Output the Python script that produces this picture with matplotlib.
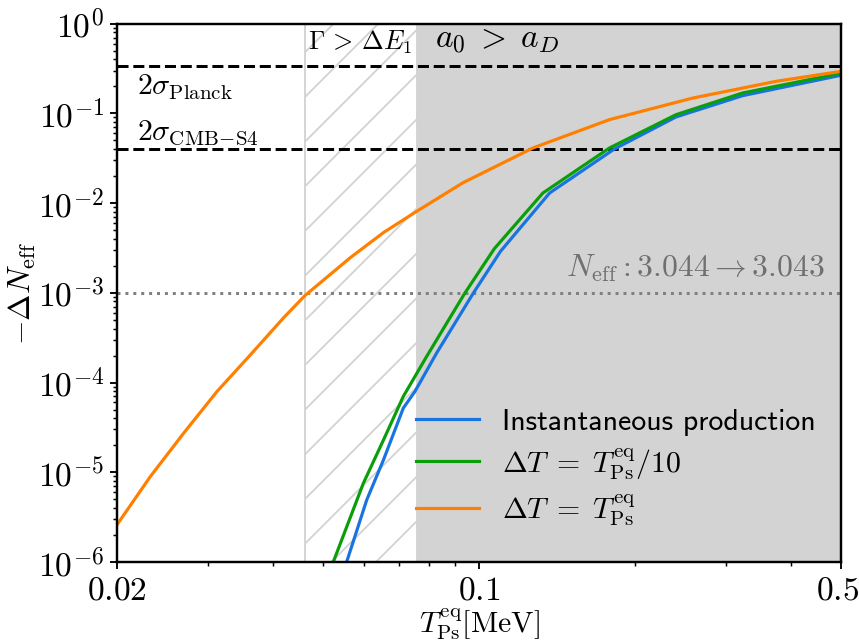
import numpy as np
import matplotlib
matplotlib.use("Agg")
import matplotlib.pyplot as plt
from matplotlib.transforms import ScaledTranslation
from matplotlib.ticker import FixedLocator, FixedFormatter, LogLocator, NullFormatter, FuncFormatter

plt.rcParams['mathtext.fontset'] = 'cm'
plt.rcParams['font.family'] = ['cmss10', 'DejaVu Sans']
plt.rcParams['axes.unicode_minus'] = False
plt.rcParams['hatch.color'] = 'lightgrey'

# curves (T_Ps^eq in MeV, -Delta N_eff)
T_inst = [0.0555, 0.0607, 0.0654, 0.0714, 0.0752, 0.0828, 0.0975, 0.110, 0.1368, 0.1825, 0.240, 0.3227, 0.5]
N_inst = [1e-6, 4.93e-6, 1.38e-5, 5.19e-5, 7.96e-5, 2.13e-4, 9.95e-4, 2.9e-3, 0.01295, 0.0401, 0.0912, 0.1575, 0.266]

T_tenth = [0.0523, 0.0598, 0.0654, 0.0714, 0.0792, 0.0879, 0.0939, 0.107, 0.1328, 0.1785, 0.240, 0.3227, 0.5]
N_tenth = [1e-6, 7.57e-6, 2.30e-5, 7.0e-5, 1.95e-4, 5.3e-4, 9.95e-4, 3.1e-3, 0.01295, 0.0411, 0.0967, 0.1687, 0.28]

T_full = [0.02, 0.0232, 0.0269, 0.0312, 0.0362, 0.0419, 0.0461, 0.0564, 0.0654, 0.0758, 0.093,
          0.127, 0.1785, 0.2584, 0.3743, 0.5]
N_full = [2.6e-6, 8.98e-6, 2.73e-5, 7.96e-5, 2.04e-4, 5.24e-4, 9.3e-4, 2.46e-3, 4.7e-3, 8.1e-3, 0.0168,
          0.0411, 0.0851, 0.148, 0.2275, 0.294]

sigma_planck = 0.334
sigma_s4 = 0.040
neff_shift = 1e-3
T_hatch = (0.0461, 0.0760)
T_grey = (0.0760, 0.5)

fig = plt.figure(figsize=(6.4, 4.8), dpi=134.25)
ax = fig.add_axes([0.1362, 0.1273, 0.979 - 0.1362, 0.9627 - 0.1273])

ax.axvspan(*T_hatch, facecolor='white', edgecolor='lightgrey', hatch='/', lw=1.0, zorder=0)
ax.axvspan(*T_grey, facecolor='lightgrey', edgecolor='none', zorder=0)

ax.axhline(sigma_planck, color='black', ls='--', lw=1.6)
ax.axhline(sigma_s4, color='black', ls='--', lw=1.6)
ax.axhline(neff_shift, color='grey', ls=':', lw=1.6)

ax.plot(T_inst, N_inst, color='#1874e0', lw=1.7, label='Instantaneous production')
ax.plot(T_tenth, N_tenth, color='#0a9e0a', lw=1.7, label=r'$\Delta T\;=\;T_{\rm Ps}^{\rm eq}/10$')
ax.plot(T_full, N_full, color='#ff8000', lw=1.7, label=r'$\Delta T\;=\;T_{\rm Ps}^{\rm eq}$')

ax.set_xscale('log')
ax.set_yscale('log')
ax.set_xlim(0.02, 0.5)
ax.set_ylim(1e-6, 1)

ax.xaxis.set_major_locator(FixedLocator([0.02, 0.1, 0.5]))
ax.xaxis.set_major_formatter(FixedFormatter([r'$0.02$', r'$0.1$', r'$0.5$']))
ax.xaxis.set_minor_locator(LogLocator(base=10, subs=np.arange(2, 10)))
ax.xaxis.set_minor_formatter(NullFormatter())
ax.yaxis.set_major_locator(LogLocator(base=10, numticks=10))
ax.yaxis.set_major_formatter(FuncFormatter(lambda v, p: r'$10^{%d}$' % round(np.log10(v))))
ax.yaxis.set_minor_locator(LogLocator(base=10, subs=np.arange(2, 10), numticks=20))
ax.yaxis.set_minor_formatter(NullFormatter())

ax.tick_params(which='major', labelsize=18, length=4, width=1.0, pad=3)
ax.tick_params(which='minor', length=2.2, width=0.8)
for s in ax.spines.values():
    s.set_linewidth(1.3)

# keep the 0.5 label inside the figure
last = ax.xaxis.get_major_ticks()[-1].label1
last.set_transform(last.get_transform() + ScaledTranslation(-4 / 134.25, 0, fig.dpi_scale_trans))

ax.set_xlabel(r'$T_{\rm Ps}^{\rm eq} [{\rm MeV}]$', fontsize=16, labelpad=0)
ax.set_ylabel(r'$-\Delta N_{\rm eff}$', fontsize=17, labelpad=0)

ax.text(0.0588, 0.63, r'$\Gamma\,>\,\Delta E_1$', fontsize=14, ha='center', va='center')
ax.text(0.1086, 0.66, r'$a_0\;>\;a_D$', fontsize=18, ha='center', va='center')
ax.text(0.0219, 0.198, r'$2\sigma_{\rm Planck}$', fontsize=16, ha='left', va='center')
ax.text(0.0219, 0.061, r'$2\sigma_{\rm CMB\!-\!S4}$', fontsize=16, ha='left', va='center')
ax.text(0.464, 1.9e-3, r'$N_{\rm eff}: 3.044 \rightarrow 3.043$', fontsize=17,
        color='#707070', ha='right', va='center')

ax.legend(loc='center left', bbox_to_anchor=(0.413, 0.1747), frameon=False,
          fontsize=16, handlelength=2.1, handletextpad=0.78, borderpad=0,
          borderaxespad=0, labelspacing=0.35)

fig.savefig('out.png', dpi=134.25)
